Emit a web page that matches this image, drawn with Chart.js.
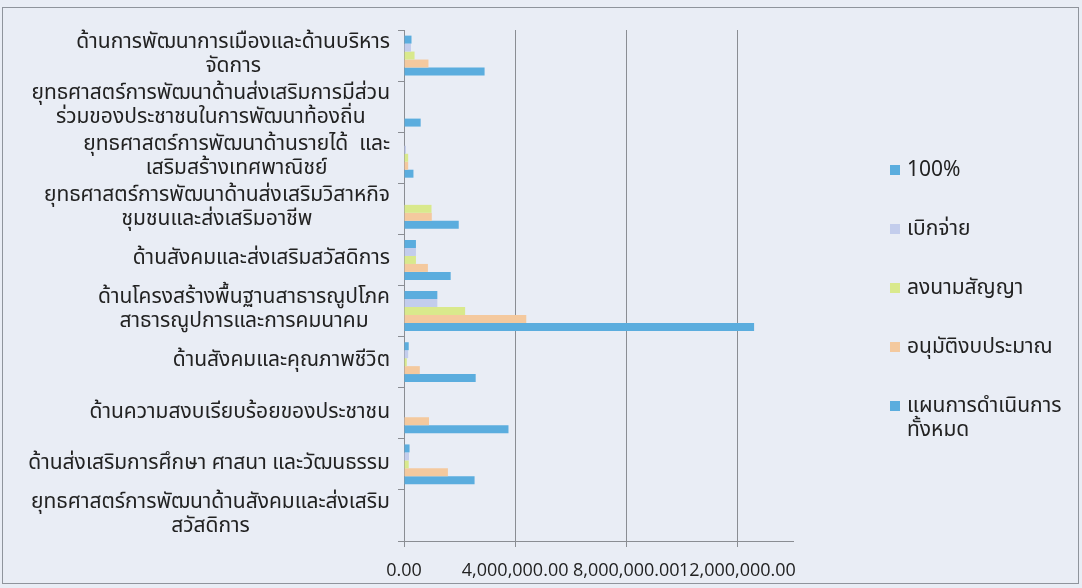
<!DOCTYPE html>
<html>
<head>
<meta charset="utf-8">
<script src="https://cdn.jsdelivr.net/npm/chart.js@4/dist/chart.umd.min.js"></script>
<style>
  body { margin: 0; background: #e9edf5; }
  #wrap { position: relative; width: 1082px; height: 588px; overflow: hidden; }
  #frame { position: absolute; left: 2px; top: 7px; width: 1077px; height: 577px; border: 1px solid #8f949c; box-sizing: border-box; }
  #legend { position: absolute; left: 0; top: 0; font-family: Tahoma, "Noto Sans Thai", "Noto Sans", sans-serif; font-size: 21px; color: #222; }
  .item { position: absolute; left: 890px; white-space: nowrap; line-height: 24px; }
  .item span.box { position: absolute; left: 0; top: 7px; width: 10px; height: 10px; }
  .item span.txt { position: absolute; left: 17px; top: 0; }
</style>
</head>
<body>
<div id="wrap">
  <div id="frame"></div>
  <canvas id="c" width="1082" height="588"></canvas>
  <div id="legend"></div>
</div>
<script>
const FONT = 'Tahoma, "Noto Sans Thai", "Noto Sans", sans-serif';

// categories top -> bottom, split into lines as in the picture
const categories = [
  ['ด้านการพัฒนาการเมืองและด้านบริหาร', 'จัดการ'],
  ['ยุทธศาสตร์การพัฒนาด้านส่งเสริมการมีส่วน', 'ร่วมของประชาชนในการพัฒนาท้องถิ่น'],
  ['ยุทธศาสตร์การพัฒนาด้านรายได้  และ', 'เสริมสร้างเทศพาณิชย์'],
  ['ยุทธศาสตร์การพัฒนาด้านส่งเสริมวิสาหกิจ', 'ชุมชนและส่งเสริมอาชีพ'],
  ['ด้านสังคมและส่งเสริมสวัสดิการ'],
  ['ด้านโครงสร้างพื้นฐานสาธารณูปโภค', 'สาธารณูปการและการคมนาคม'],
  ['ด้านสังคมและคุณภาพชีวิต'],
  ['ด้านความสงบเรียบร้อยของประชาชน'],
  ['ด้านส่งเสริมการศึกษา ศาสนา และวัฒนธรรม'],
  ['ยุทธศาสตร์การพัฒนาด้านสังคมและส่งเสริม', 'สวัสดิการ']
];

const seriesNames = ['100%', 'เบิกจ่าย', 'ลงนามสัญญา', 'อนุมัติงบประมาณ', 'แผนการดำเนินการ\nทั้งหมด'];

const full100   = [270000, 0, 0, 0, 430000, 1200000, 170000, 0, 200000, 0];
const paid      = [250000, 0, 70000, 0, 430000, 1200000, 150000, 0, 180000, 0];
const signed    = [380000, 0, 150000, 990000, 430000, 2200000, 100000, 0, 170000, 0];
const approved  = [880000, 0, 150000, 1000000, 860000, 4400000, 570000, 900000, 1580000, 0];
const planTotal = [2900000, 600000, 340000, 1970000, 1680000, 12600000, 2580000, 3760000, 2540000, 0];

const xTicks = [0, 4000000, 8000000, 12000000];
const xMax = 14000000;

const colors = ['#5badde', '#c3cdec', '#d9e98c', '#f4c99e', '#5badde'];
const seriesData = [full100, paid, signed, approved, planTotal];

// y labels: right aligned block, lines centred on each other
const yLabelPlugin = {
    id: 'yLabels',
    afterDraw(chart) {
        const ctx = chart.ctx;
        const y = chart.scales.y;
        ctx.save();
        ctx.font = '21px ' + FONT;
        ctx.fillStyle = '#222';
        ctx.textAlign = 'center';
        ctx.textBaseline = 'middle';
        const right = y.right - 14;
        categories.forEach((lines, i) => {
            const cy = y.getPixelForValue(i);
            const w = Math.max(...lines.map(l => ctx.measureText(l).width));
            const cx = right - w / 2;
            lines.forEach((l, k) => {
                ctx.fillText(l, cx, cy + (k - (lines.length - 1) / 2) * 24);
            });
        });
        ctx.restore();
    }
};

new Chart(document.getElementById('c'), {
    type: 'bar',
    data: {
        labels: categories,
        datasets: seriesNames.map((name, i) => ({
            label: name.replace('\n', ''),
            data: seriesData[i],
            backgroundColor: colors[i],
            borderWidth: 0,
            categoryPercentage: 0.78,
            barPercentage: 1.0
        }))
    },
    options: {
        indexAxis: 'y',
        responsive: false,
        animation: false,
        layout: { padding: { left: 0, top: 30, right: 289, bottom: 0 } },
        plugins: { legend: { display: false }, tooltip: { enabled: false } },
        scales: {
            x: {
                min: 0,
                max: xMax,
                afterBuildTicks: (scale) => { scale.ticks = xTicks.map(v => ({ value: v })); },
                afterFit: (scale) => { scale.height = 47; },
                grid: { color: '#8a8d93', lineWidth: 1, tickLength: 6, drawTicks: true },
                border: { display: true, color: '#8a8d93', width: 1 },
                ticks: {
                    autoSkip: false,
                    maxRotation: 0,
                    padding: 13,
                    color: '#222',
                    font: { family: '"Open Sans", "Noto Sans", sans-serif', size: 18 },
                    callback: (v) => Number(v).toLocaleString('en-US', { minimumFractionDigits: 2, maximumFractionDigits: 2 })
                }
            },
            y: {
                afterFit: (scale) => { scale.width = 404; },
                grid: { offset: true, drawOnChartArea: false, color: '#8a8d93', tickLength: 6 },
                border: { display: true, color: '#8a8d93', width: 1 },
                ticks: { display: false }
            }
        }
    },
    plugins: [yLabelPlugin]
});

// legend on the right
const legend = document.getElementById('legend');
seriesNames.forEach((name, i) => {
    const item = document.createElement('div');
    item.className = 'item';
    item.style.top = (158 + i * 59) + 'px';
    item.innerHTML = '<span class="box" style="background:' + colors[i] + '"></span>' +
        '<span class="txt">' + name.split('\n').join('<br>') + '</span>';
    legend.appendChild(item);
});
</script>
</body>
</html>
